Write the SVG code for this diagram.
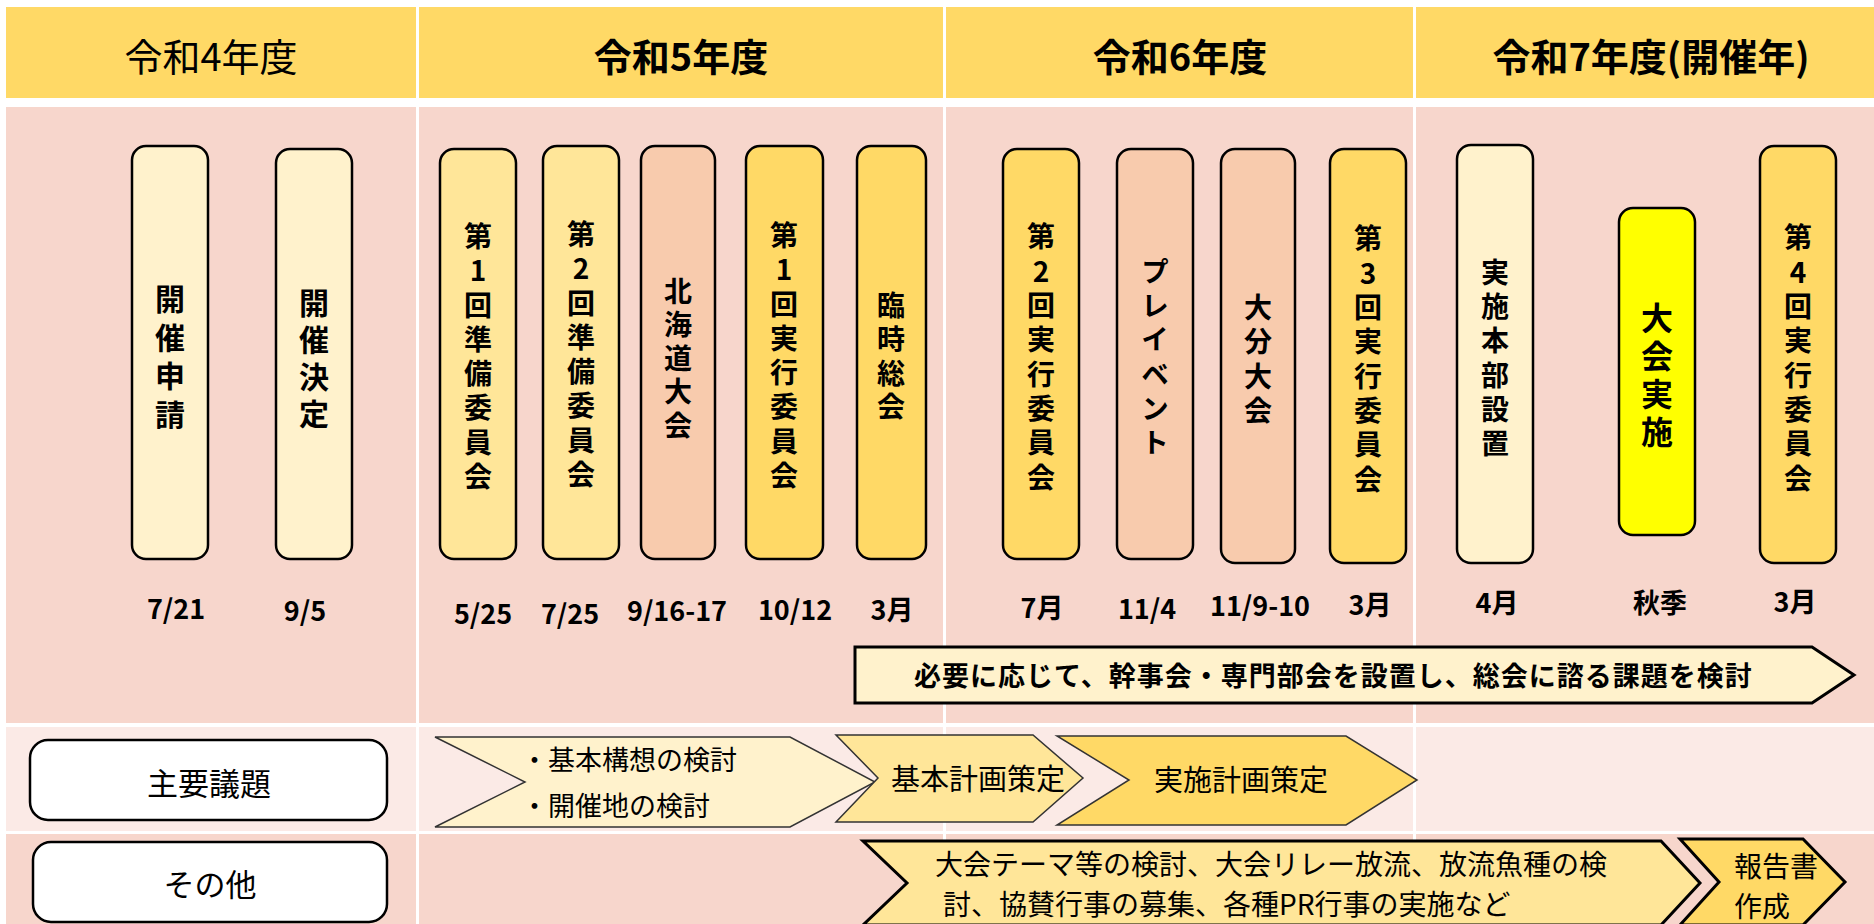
<svg xmlns="http://www.w3.org/2000/svg" width="1874" height="924" viewBox="0 0 1874 924">
<style>
text{font-family:"Noto Sans CJK JP","Noto Sans CJK SC",sans-serif;fill:#000}
.hd{font-size:38px;text-anchor:middle}
.b{font-weight:bold}
.vt{font-size:28px;font-weight:bold;text-anchor:middle;writing-mode:vertical-rl;text-orientation:upright;letter-spacing:6.3px}
.v30{font-size:30px}
.v32{font-size:32px}
.dt{font-size:27px;font-weight:bold;text-anchor:middle}
.pill{stroke:#000;stroke-width:2.5}
.c-cream{fill:#FFF2CC}.c-lt{fill:#FFE699}.c-gold{fill:#FFD966}.c-peach{fill:#F8CBAD}.c-yel{fill:#FFFF00}
.gold{fill:#FFD966}.pink{fill:#F7D6CC}.lpink{fill:#FBEAE6}
.chev{stroke:#000;stroke-width:3;stroke-linejoin:miter}
.chevt{stroke:#333;stroke-width:1.5}
.lbl{font-size:31px;text-anchor:middle}
.ct{font-size:28px}
.c27{font-size:27px}
.c29{font-size:29px}
.mid{text-anchor:middle}
</style>
<rect width="1874" height="924" fill="#fff"/>
<g id="grid">
<rect class="gold" x="6" y="7" width="410" height="91"/>
<rect class="gold" x="419" y="7" width="524" height="91"/>
<rect class="gold" x="946" y="7" width="467" height="91"/>
<rect class="gold" x="1416" y="7" width="458" height="91"/>
<rect class="pink" x="6" y="107" width="410" height="616"/>
<rect class="pink" x="419" y="107" width="524" height="616"/>
<rect class="pink" x="946" y="107" width="467" height="616"/>
<rect class="pink" x="1416" y="107" width="458" height="616"/>
<rect class="lpink" x="6" y="727" width="410" height="104"/>
<rect class="lpink" x="419" y="727" width="524" height="104"/>
<rect class="lpink" x="946" y="727" width="467" height="104"/>
<rect class="lpink" x="1416" y="727" width="458" height="104"/>
<rect class="pink" x="6" y="834" width="410" height="90"/>
<rect class="pink" x="419" y="834" width="524" height="90"/>
<rect class="pink" x="946" y="834" width="467" height="90"/>
<rect class="pink" x="1416" y="834" width="458" height="90"/>
</g>
<g id="headers">
<text class="hd" x="211" y="71">令和4年度</text>
<text class="hd b" x="681" y="71">令和5年度</text>
<text class="hd b" x="1180" y="71">令和6年度</text>
<text class="hd b" x="1651" y="71">令和7年度(開催年)</text>
</g>
<g id="n-kaisai-shinsei">
<rect class="pill c-cream" x="132" y="146" width="76" height="413" rx="14"/>
<text class="vt v30" x="170" y="361" style="letter-spacing:8.7px">開催申請</text>
<text class="dt" x="176" y="619">7/21</text>
</g>
<g id="n-kaisai-kettei">
<rect class="pill c-cream" x="276" y="149" width="76" height="410" rx="14"/>
<text class="vt v30" x="314" y="361.5" style="letter-spacing:7px">開催決定</text>
<text class="dt" x="305" y="621">9/5</text>
</g>
<g id="n-junbi1">
<rect class="pill c-lt" x="440" y="149" width="76" height="410" rx="14"/>
<text class="vt" x="478" y="359.5">第1回準備委員会</text>
<text class="dt" x="483" y="624">5/25</text>
</g>
<g id="n-junbi2">
<rect class="pill c-lt" x="543" y="146" width="76" height="413" rx="14"/>
<text class="vt" x="581" y="357.5">第2回準備委員会</text>
<text class="dt" x="570" y="624">7/25</text>
</g>
<g id="n-hokkaido">
<rect class="pill c-peach" x="641" y="146" width="74" height="413" rx="14"/>
<text class="vt" x="678" y="361" style="letter-spacing:5.5px">北海道大会</text>
<text class="dt" x="677" y="621">9/16-17</text>
</g>
<g id="n-jikko1">
<rect class="pill c-gold" x="746" y="146" width="77" height="413" rx="14"/>
<text class="vt" x="784" y="358.5">第1回実行委員会</text>
<text class="dt" x="795" y="620">10/12</text>
</g>
<g id="n-rinji">
<rect class="pill c-gold" x="857" y="146" width="69" height="413" rx="14"/>
<text class="vt" x="891" y="359" style="letter-spacing:5.7px">臨時総会</text>
<text class="dt" x="892" y="620">3月</text>
</g>
<g id="n-jikko2">
<rect class="pill c-gold" x="1003" y="149" width="76" height="410" rx="14"/>
<text class="vt" x="1041" y="360">第2回実行委員会</text>
<text class="dt" x="1042" y="618">7月</text>
</g>
<g id="n-pre">
<rect class="pill c-peach" x="1117" y="149" width="76" height="410" rx="14"/>
<text class="vt" x="1155" y="360">プレイベント</text>
<text class="dt" x="1147" y="619">11/4</text>
</g>
<g id="n-oita">
<rect class="pill c-peach" x="1221" y="149" width="74" height="414" rx="14"/>
<text class="vt" x="1258" y="362">大分大会</text>
<text class="dt" x="1260" y="616">11/9-10</text>
</g>
<g id="n-jikko3">
<rect class="pill c-gold" x="1330" y="149" width="76" height="414" rx="14"/>
<text class="vt" x="1368" y="362">第3回実行委員会</text>
<text class="dt" x="1370" y="615">3月</text>
</g>
<g id="n-honbu">
<rect class="pill c-cream" x="1457" y="145" width="76" height="418" rx="14"/>
<text class="vt" x="1495" y="361">実施本部設置</text>
<text class="dt" x="1497" y="613">4月</text>
</g>
<g id="n-taikai">
<rect class="pill c-yel" x="1619" y="208" width="76" height="327" rx="14"/>
<text class="vt v32" x="1657" y="378" style="letter-spacing:6px">大会実施</text>
<text class="dt" x="1660" y="613">秋季</text>
</g>
<g id="n-jikko4">
<rect class="pill c-gold" x="1760" y="146" width="76" height="417" rx="14"/>
<text class="vt" x="1798" y="361">第4回実行委員会</text>
<text class="dt" x="1795" y="612">3月</text>
</g>
<g id="n-kanjikai">
<polygon class="chev c-cream" points="855,647 1812,647 1854,675 1812,703 855,703"/>
<text x="914" y="686" style="font-size:27px;font-weight:bold;letter-spacing:1px">必要に応じて、幹事会・専門部会を設置し、総会に諮る課題を検討</text>
</g>
<g id="n-shuyo">
<rect x="30" y="740" width="357" height="80" rx="18" fill="#fff" stroke="#000" stroke-width="2.5"/>
<text class="lbl" x="209" y="795">主要議題</text>
</g>
<g id="n-sonota">
<rect x="33" y="842" width="354" height="80" rx="18" fill="#fff" stroke="#000" stroke-width="2.5"/>
<text class="lbl" x="210" y="896">その他</text>
</g>
<g id="n-kihonkoso">
<polygon class="chevt c-cream" points="435,737 790,737 875,782 790,827 435,827 525,782"/>
<text class="c27" x="521" y="770">・<tspan x="548">基本構想の検討</tspan></text>
<text class="c27" x="521" y="816">・<tspan x="548">開催地の検討</tspan></text>
</g>
<g id="n-kihonkeikaku">
<polygon class="chevt c-lt" points="836,735 1033,735 1083,778 1033,822 836,822 878,778"/>
<text class="c29 mid" x="978" y="790">基本計画策定</text>
</g>
<g id="n-jisshikeikaku">
<polygon class="chevt c-gold" points="1057,736 1346,736 1417,780 1346,825 1057,825 1129,780"/>
<text class="c29 mid" x="1241" y="791">実施計画策定</text>
</g>
<g id="n-theme">
<polygon class="chev c-lt" points="863,841 1661,841 1700,883 1661,925 863,925 907,883"/>
<text class="ct" x="935" y="875">大会テーマ等の検討、大会リレー放流、放流魚種の検</text>
<text class="ct" x="943" y="915">討、協賛行事の募集、各種PR行事の実施など</text>
</g>
<g id="n-hokoku">
<polygon class="chev c-gold" points="1680,839 1803,839 1845,882 1803,925 1680,925 1719,882"/>
<text class="ct" x="1734" y="877">報告書</text>
<text class="ct" x="1734" y="917">作成</text>
</g>
<g id="connectors"/>
</svg>
